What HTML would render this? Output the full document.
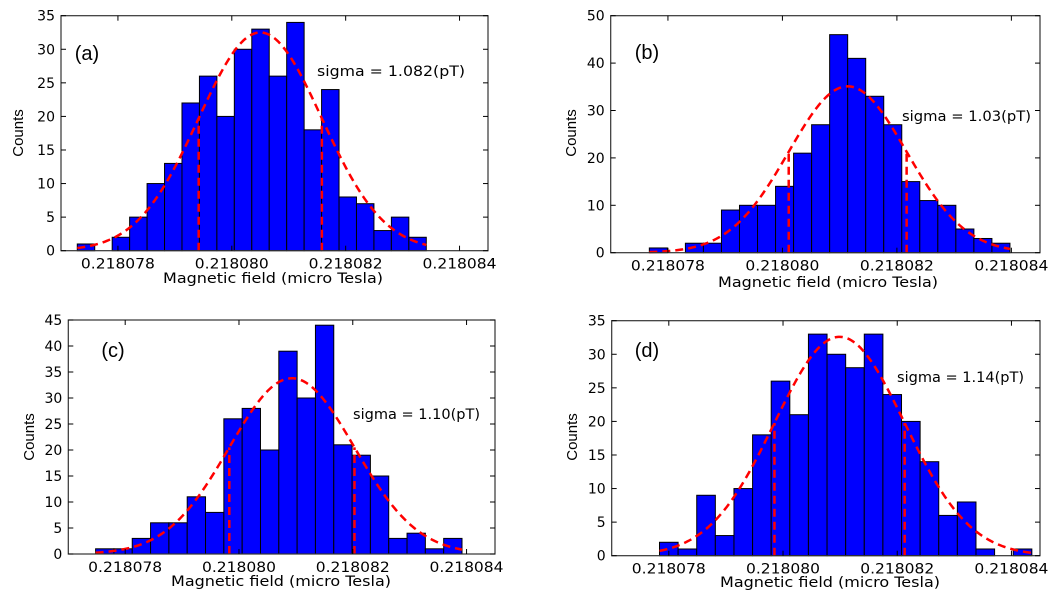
<!DOCTYPE html>
<html><head><meta charset="utf-8"><style>
html,body{margin:0;padding:0;background:#fff;}
svg{display:block;}
text{font-family:"DejaVu Sans","Liberation Sans",sans-serif;fill:#000;}
</style></head><body>
<svg id="chart" width="1058" height="602" viewBox="0 0 1058 602" xmlns="http://www.w3.org/2000/svg"></svg>
<script>
// Data (x in units of 1e-6 offset from 0.218 micro Tesla)
const countsA = [1,0,2,5,10,13,22,26,20,30,33,26,34,18,24,8,7,3,5,2];
const countsB = [1,0,2,2,9,10,10,14,21,27,46,41,33,27,15,11,10,5,3,2];
const countsC = [1,1,3,6,6,11,8,26,28,20,39,30,44,21,19,15,3,4,1,3];
const countsD = [2,1,9,3,10,18,26,21,33,30,28,33,24,20,14,6,8,1,0,1];
const binStart = [77.286, 77.675, 77.48, 77.837];
const binWidth = [0.3065, 0.315, 0.322, 0.326];
const fitMean = [80.50, 81.14, 80.93, 80.99];
const fitSigma = [1.082, 1.03, 1.10, 1.14];
const fitPeak = [32.5, 35.1, 33.8, 32.6];
const yMax = [35, 50, 45, 35];
const yStep = [5, 10, 5, 5];
const xTickValues = [78, 80, 82, 84];
const xTickLabels = ["0.218078","0.218080","0.218082","0.218084"];
const panelLetters = ["(a)","(b)","(c)","(d)"];
const sigmaLabels = ["sigma = 1.082(pT)","sigma = 1.03(pT)","sigma = 1.10(pT)","sigma = 1.14(pT)"];
const sigmaWidths = [148, 129, 127, 127];
const xDomain = [77, 84.5];

const allCounts = [countsA, countsB, countsC, countsD];
const panels = [
  {l:61, r:488, t:15.7, b:250.7, letter:[87,53], sig:[317,71], xl:[273,278], yl:[18,133]},
  {l:610.7, r:1040, t:15.7, b:252.7, letter:[647,52], sig:[902,116], xl:[828,282], yl:[571,133]},
  {l:68.3, r:495, t:320, b:554, letter:[113,350], sig:[353,414], xl:[281,581], yl:[29,437]},
  {l:611.7, r:1040, t:320.7, b:555.7, letter:[647,350], sig:[897,377], xl:[830,582], yl:[572,437]}
];
const NS = "http://www.w3.org/2000/svg";
const svg = document.getElementById('chart');
function mk(tag, attrs, parent){
  const e = document.createElementNS(NS, tag);
  for (const k in attrs) e.setAttribute(k, attrs[k]);
  (parent||svg).appendChild(e);
  return e;
}
panels.forEach((p, i) => {
  const g = mk('g', {});
  
  
  const xs = v => p.l + (v - xDomain[0]) / (xDomain[1] - xDomain[0]) * (p.r - p.l);
  const ys = v => p.b - v / yMax[i] * (p.b - p.t);
  const counts = allCounts[i];
  counts.forEach((c, j) => {
    if (c <= 0) return;
    const x0 = xs(binStart[i] + j * binWidth[i]), x1 = xs(binStart[i] + (j + 1) * binWidth[i]);
    const r = mk('rect', {x:x0, y:ys(c), width:x1 - x0, height:ys(0) - ys(c), fill:'#0000ff', stroke:'#000', 'stroke-width':1}, g);
    
    
  });
  const gauss = x => fitPeak[i] * Math.exp(-Math.pow(x - fitMean[i], 2) / (2 * fitSigma[i] * fitSigma[i]));
  const xa = binStart[i], xb = binStart[i] + counts.length * binWidth[i];
  let d = '';
  for (let k = 0; k <= 200; k++) {
    const x = xa + (xb - xa) * k / 200;
    d += (k ? 'L' : 'M') + xs(x).toFixed(2) + ',' + ys(gauss(x)).toFixed(2);
  }
  const curve = mk('path', {d:d, fill:'none', stroke:'#ff0000', 'stroke-width':2.5, 'stroke-dasharray':'8,5'}, g);
  
  
  [fitMean[i] - fitSigma[i], fitMean[i] + fitSigma[i]].forEach(x => {
    const ln = mk('line', {x1:xs(x), x2:xs(x), y1:ys(0), y2:ys(gauss(x)), stroke:'#ff0000', 'stroke-width':2.5, 'stroke-dasharray':'8,5'}, g);
    
    
  });
  const fr = mk('rect', {x:p.l, y:p.t, width:p.r - p.l, height:p.b - p.t, fill:'none', stroke:'#333', 'stroke-width':1.2}, g);
  
  
  for (let v = 0; v <= yMax[i]; v += yStep[i]) {
    const y = ys(v);
    mk('line', {x1:p.l, x2:p.l + 5, y1:y, y2:y, stroke:'#000', 'stroke-width':1}, g);
    mk('line', {x1:p.r, x2:p.r - 5, y1:y, y2:y, stroke:'#000', 'stroke-width':1}, g);
    const t = mk('text', {x:p.l - 6, y:y + 5, 'text-anchor':'end', 'font-size':14}, g);
    t.textContent = v;
    
    
  }
  xTickValues.forEach((v, k) => {
    const x = xs(v);
    mk('line', {x1:x, x2:x, y1:p.b, y2:p.b - 5, stroke:'#000', 'stroke-width':1}, g);
    mk('line', {x1:x, x2:x, y1:p.t, y2:p.t + 5, stroke:'#000', 'stroke-width':1}, g);
    const t = mk('text', {x:x - 37, y:p.b + 18, 'font-size':14, textLength:74, lengthAdjust:'spacingAndGlyphs'}, g);
    t.textContent = xTickLabels[k];
    
    
  });
  const xl = mk('text', {x:p.xl[0] - 110, y:p.xl[1] + 5, 'font-size':14.5, textLength:220, lengthAdjust:'spacingAndGlyphs'}, g);
  xl.textContent = 'Magnetic field (micro Tesla)';
  
  
  const yl = mk('text', {x:0, y:0, 'text-anchor':'middle', 'font-size':15, transform:'translate(' + (p.yl[0] + 5) + ',' + p.yl[1] + ') rotate(-90)', style:'font-family:"Liberation Sans",sans-serif'}, g);
  yl.textContent = 'Counts';
  
  
  const lt = mk('text', {x:p.letter[0], y:p.letter[1] + 7, 'text-anchor':'middle', 'font-size':20, style:'font-family:"Liberation Sans",sans-serif'}, g);
  lt.textContent = panelLetters[i];
  
  
  const st = mk('text', {x:p.sig[0], y:p.sig[1] + 5, 'font-size':14, textLength:sigmaWidths[i], lengthAdjust:'spacingAndGlyphs'}, g);
  st.textContent = sigmaLabels[i];
  
  
});
</script>
</body></html>
